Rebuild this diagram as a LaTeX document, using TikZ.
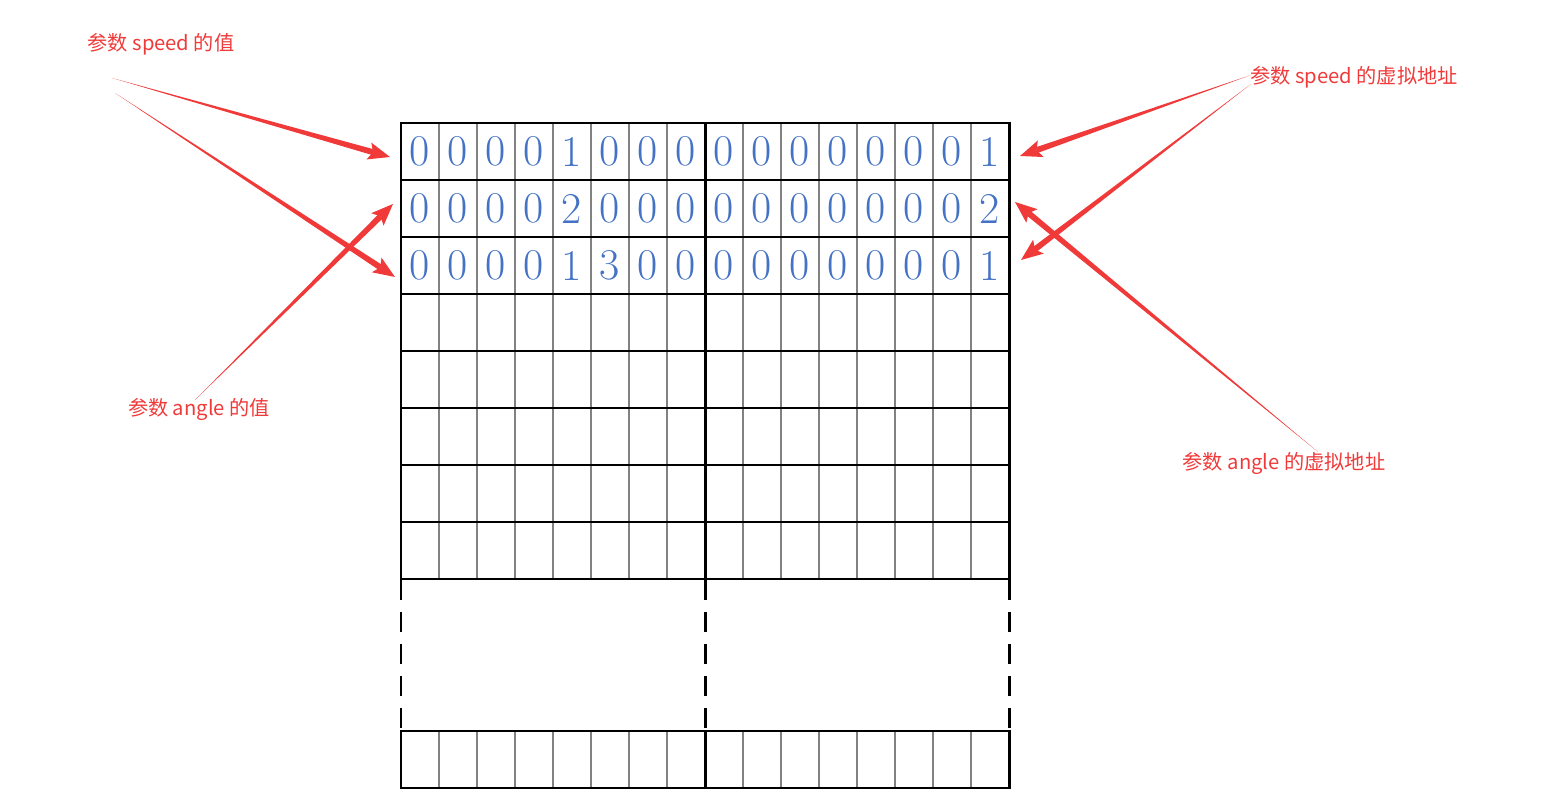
\documentclass[tikz,border=0pt]{standalone}
\usepackage{fontspec}
\newfontfamily\cjk{Noto Sans CJK SC}
\usetikzlibrary{calc, positioning}
\definecolor{arrowred}{RGB}{240,58,58}
\definecolor{digitblue}{RGB}{68,114,196}
\definecolor{cellgray}{RGB}{130,130,130}
% tapered arrow from a free end to a tip
\newcommand\taperarrow[2]{%
  \coordinate (hb) at ($(#2)!12.5pt!(#1)$);
  \coordinate (hs) at ($(#2)!10pt!(#1)$);
  \fill[arrowred] (#1) -- ($(hs)!1.7pt!90:(#1)$) -- ($(hs)!1.7pt!-90:(#1)$) -- cycle;
  \fill[arrowred] (#2) -- ($(hb)!5pt!90:(#1)$) -- (hs) -- ($(hb)!5pt!-90:(#1)$) -- cycle;
}

\begin{document}
\begin{tikzpicture}[x=0.02cm, y=-0.02cm,
  cell/.style={cellgray, line width=0.8pt},
  frame/.style={black, line width=1.7pt, line cap=rect},
  gap/.style={black, line width=1.7pt, dash pattern=on 0.4cm off 0.24cm},
  digit/.style={text=digitblue, font=\fontsize{25}{25}\selectfont, inner sep=0pt},
  lbl/.style={text=arrowred, font=\cjk\fontsize{11.5}{13}\selectfont, inner sep=1pt}]
  \useasboundingbox (0,0) rectangle (1548,803);

  % memory cells
  \foreach \c in {1,...,15} {
    \draw[cell] ({401+38*\c},123) -- ({401+38*\c},579);
    \draw[cell] ({401+38*\c},731) -- ({401+38*\c},788);
  }
  \foreach \r in {0,...,8}
    \draw[frame] (401,{123+57*\r}) -- (1009,{123+57*\r});
  \draw[frame] (401,731) -- (1009,731);
  \draw[frame] (401,788) -- (1009,788);
  \foreach \x in {401,705,1009} {
    \draw[frame] (\x,123) -- (\x,579);
    \draw[gap] (\x,580) -- (\x,731);
    \draw[frame] (\x,731) -- (\x,788);
  }

  % stored values
  \foreach \digits [count=\r] in {{0,0,0,0,1,0,0,0,0,0,0,0,0,0,0,1},
                                  {0,0,0,0,2,0,0,0,0,0,0,0,0,0,0,2},
                                  {0,0,0,0,1,3,0,0,0,0,0,0,0,0,0,1}}
    \foreach \d [count=\c] in \digits
      \node[digit] (d\r-\c) at ({382+38*\c},{94.5+57*\r}) {\d};

  % labels
  \node[lbl] (speedval) at (161,44) {参数 speed 的值};
  \node[lbl] (angleval) at (199,409) {参数 angle 的值};
  \node[lbl] (speedaddr) at (1354,77) {参数 speed 的虚拟地址};
  \node[lbl] (angleaddr) at (1284,463) {参数 angle 的虚拟地址};

  \coordinate (sv1) at (112,78);  \coordinate (sv1t) at (390,157);
  \coordinate (sv2) at (115,93);  \coordinate (sv2t) at (395,277);
  \coordinate (av)  at (195,400); \coordinate (avt)  at (393,204);
  \coordinate (sa1) at (1251,75); \coordinate (sa1t) at (1020,156);
  \coordinate (sa2) at (1251,84); \coordinate (sa2t) at (1021,260);
  \coordinate (aa)  at (1318,452); \coordinate (aat) at (1015,202);

  \taperarrow{sv1}{sv1t}
  \taperarrow{sv2}{sv2t}
  \taperarrow{av}{avt}
  \taperarrow{sa1}{sa1t}
  \taperarrow{sa2}{sa2t}
  \taperarrow{aa}{aat}
\end{tikzpicture}
\end{document}
